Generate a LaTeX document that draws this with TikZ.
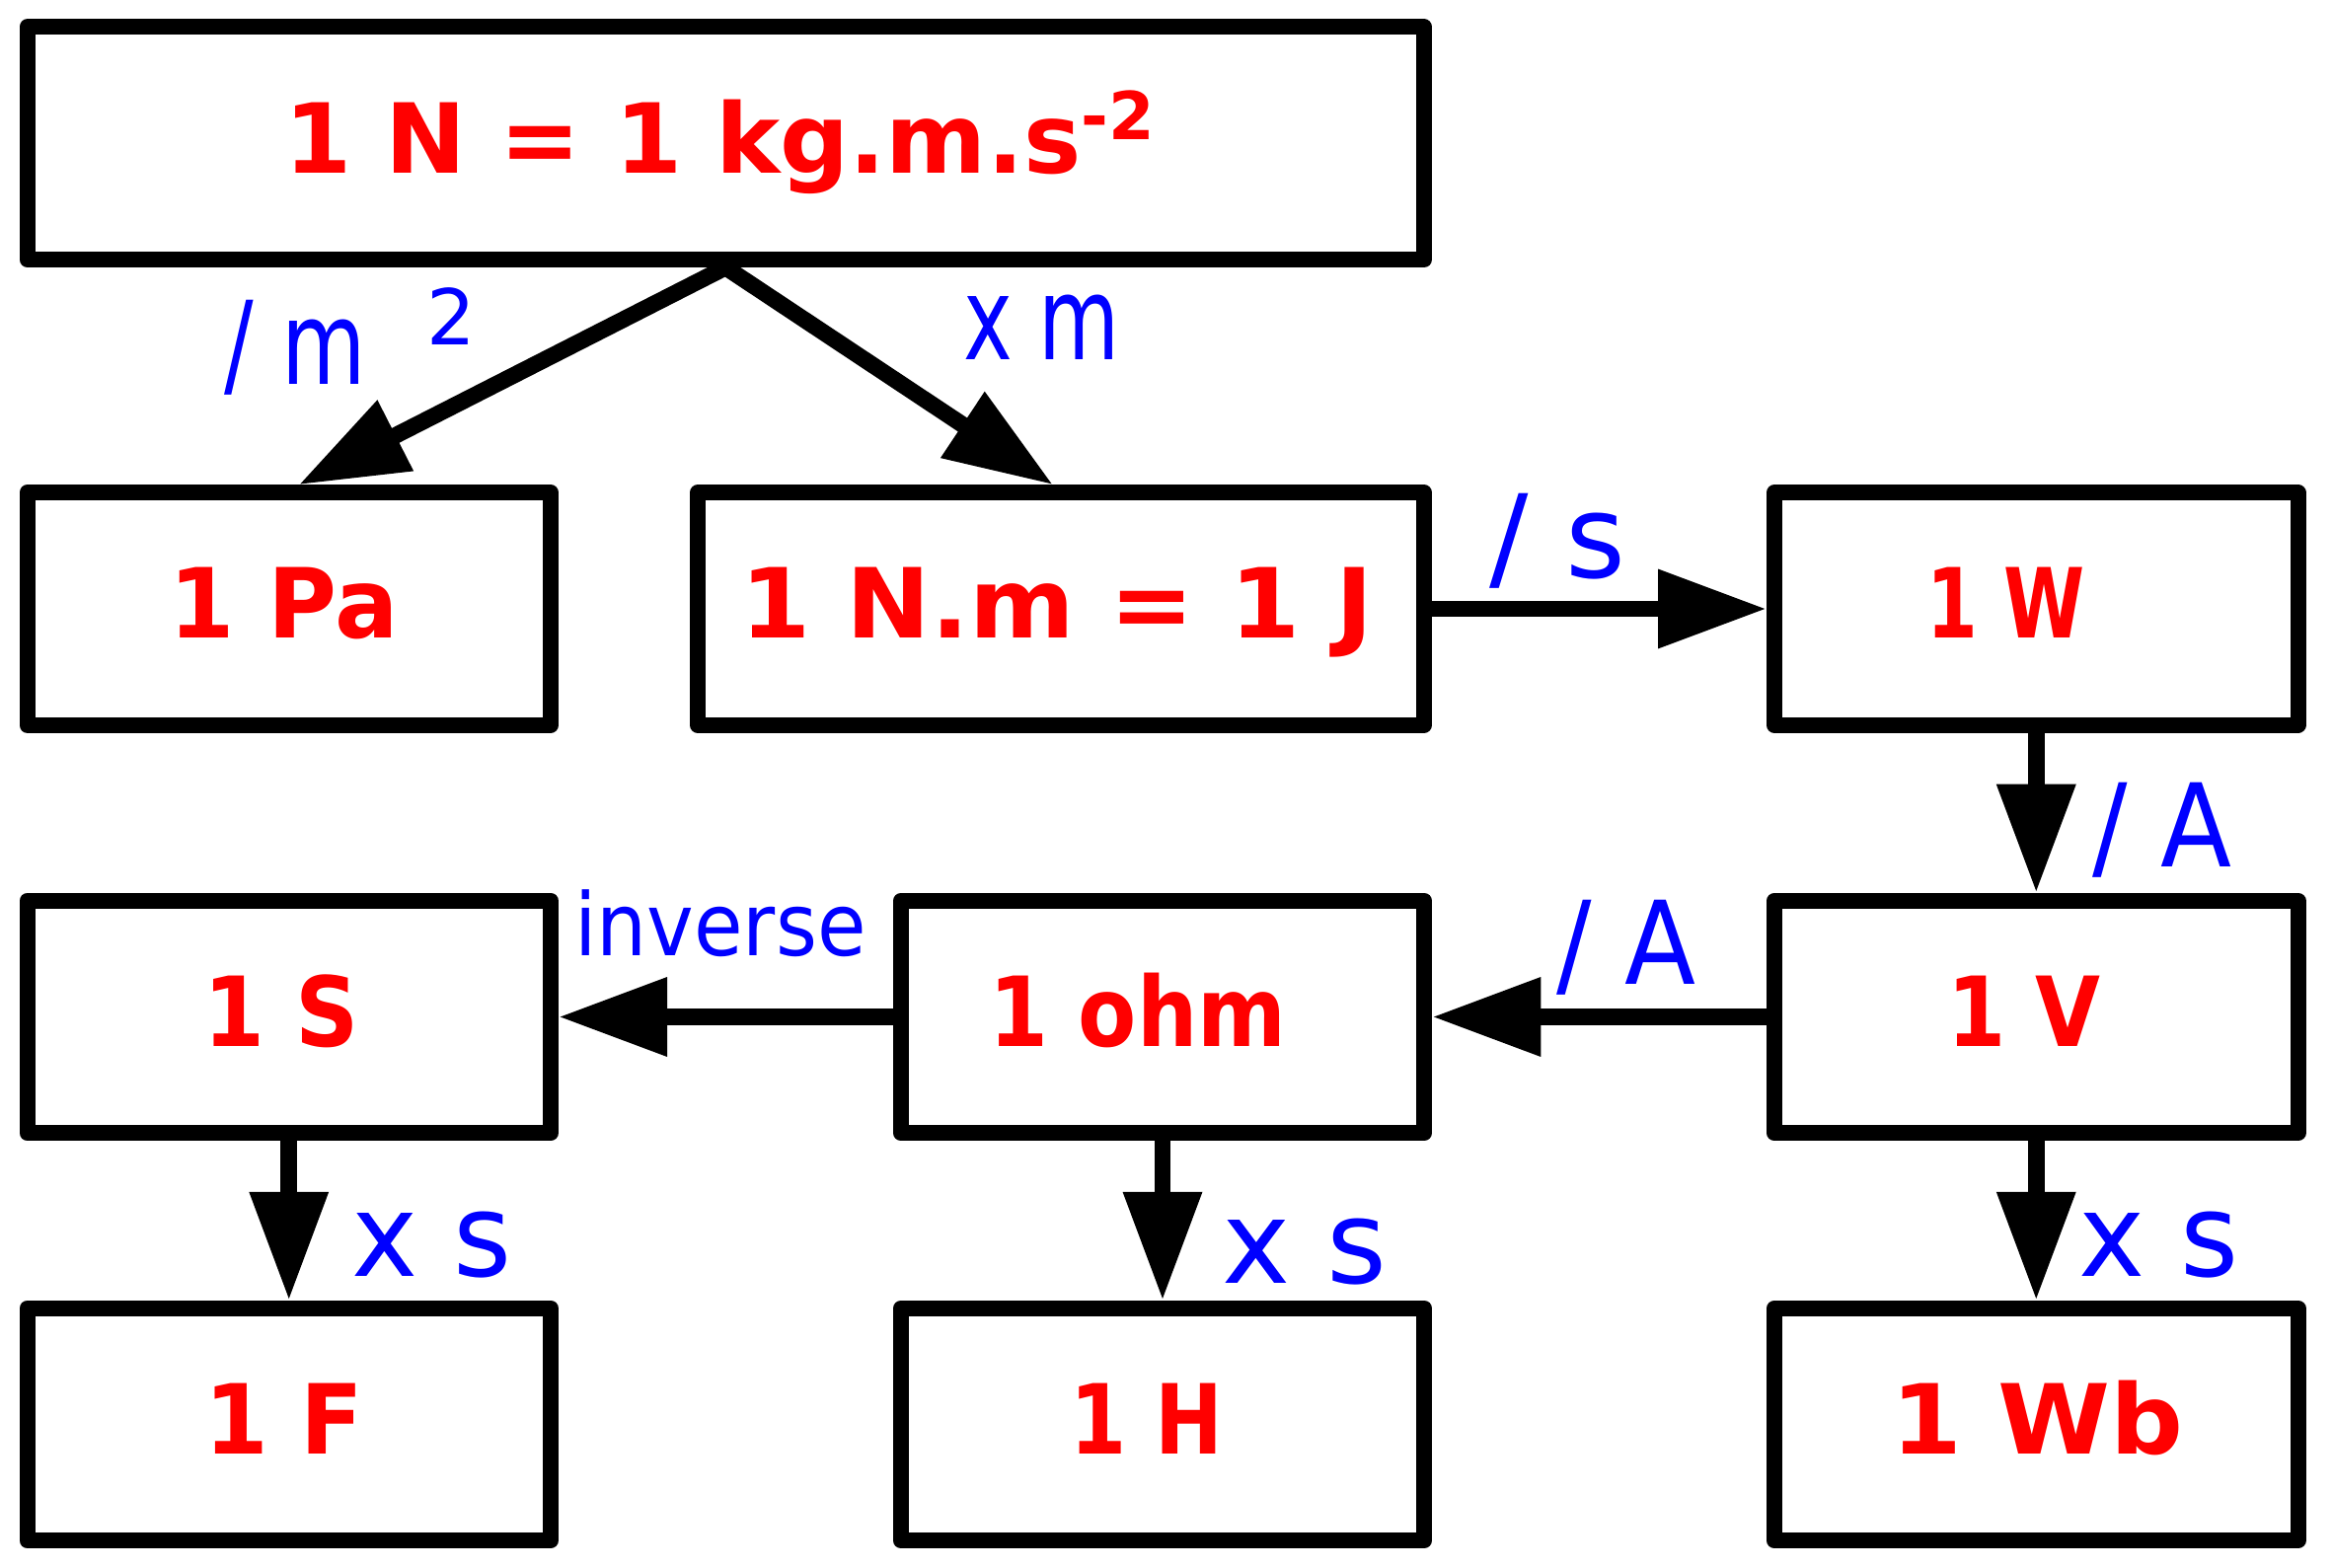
\documentclass[tikz,border=0pt]{standalone}
\usepackage{fontspec}
\setmainfont{DejaVu Sans}
\usepackage{graphicx}
\usetikzlibrary{arrows.meta}
\newcommand{\redtx}[3]{\hspace*{#1}\scalebox{#2}[1]{#3}\hspace*{-#1}}
\begin{document}
\begin{tikzpicture}[x=0.3pt,y=-0.3pt,
  box/.style={draw, line width=4.8pt, line join=round, minimum height=70.65pt,
    inner sep=0pt, text height=18pt, text depth=0pt,
    font=\fontsize{29.4pt}{30pt}\selectfont\bfseries, text=red},
  smallbox/.style={box, minimum width=159.15pt},
  lbl/.style={anchor=base west, inner sep=0pt, text=blue,
    font=\fontsize{35.1pt}{36pt}\selectfont},
  conn/.style={line width=5pt, -{Triangle[length=33pt,width=22.8pt]}}]
\useasboundingbox (0,0) rectangle (2363,1589);

\node[box, minimum width=424.65pt] (top) at (735.25,145.25)
  {\redtx{-1.8pt}{1}{1 N = 1 kg.m.s\raisebox{10.2pt}{\fontsize{20.1pt}{21pt}\selectfont -2}}};
\node[smallbox] (Pa) at (292.75,617) {\redtx{-1.5pt}{0.975}{1 Pa}};
\node[box, minimum width=220.8pt] (NJ) at (1075,617) {\redtx{-1.2pt}{1.045}{1 N.m = 1 J}};
\node[smallbox] (W) at (2063.25,617) {\redtx{-9.3pt}{0.76}{1 W}};
\node[smallbox] (S) at (292.75,1030.5) {\redtx{-2.2pt}{0.91}{1 S}};
\node[smallbox] (ohm) at (1178,1030.5) {\redtx{-7.5pt}{0.88}{1 ohm}};
\node[smallbox] (V) at (2063.25,1030.5) {\redtx{-3.8pt}{0.87}{1 V}};
\node[smallbox] (F) at (292.75,1443.5) {\redtx{-1.6pt}{0.95}{1 F}};
\node[smallbox] (H) at (1178,1443.5) {\redtx{-4.7pt}{0.84}{1 H}};
\node[smallbox] (Wb) at (2063.25,1443.5) {\redtx{0.3pt}{1.055}{1 Wb}};

\draw[conn] (top.south) -- ([xshift=3pt]Pa.north);
\draw[conn] (top.south) -- ([xshift=-2.4pt]NJ.north);
\draw[conn] (NJ.east) -- (W.west);
\draw[conn] (W.south) -- (V.north);
\draw[conn] (V.west) -- (ohm.east);
\draw[conn] (ohm.west) -- (S.east);
\draw[conn] (S.south) -- (F.north);
\draw[conn] (ohm.south) -- (H.north);
\draw[conn] (V.south) -- (Wb.north);

\node[lbl] (lm2) at (227,390) {\scalebox{0.75}[1]{/ m}\hspace{18.7pt}\raisebox{12pt}{\fontsize{23.4pt}{24pt}\selectfont 2}};
\node[lbl] (lxm) at (975.6,365) {\scalebox{0.72}[1]{x m}};
\node[lbl] (ls) at (1509,586) {/ s};
\node[lbl] (lA1) at (2120,879) {\scalebox{0.9}[1]{/ A}};
\node[lbl] (lA2) at (1577,998) {\scalebox{0.9}[1]{/ A}};
\node[lbl, font=\fontsize{26.4pt}{27pt}\selectfont] (linv) at (581.4,969) {\scalebox{0.916}[1]{inverse}};
\node[lbl] (lxs1) at (355.7,1293) {\scalebox{0.97}[1]{x s}};
\node[lbl] (lxs2) at (1237.6,1300) {x s};
\node[lbl] (lxs3) at (2105.7,1293) {\scalebox{0.97}[1]{x s}};
\end{tikzpicture}
\end{document}
